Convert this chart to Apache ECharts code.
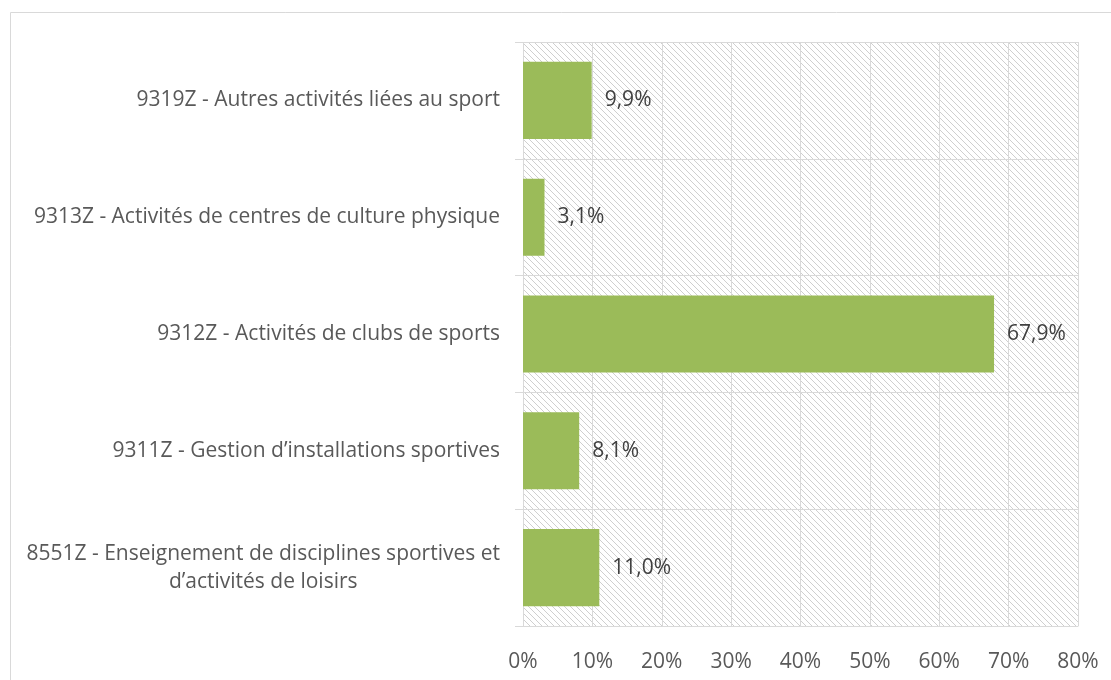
<!DOCTYPE html>
<html>
<head>
<meta charset="utf-8">
<script src="https://cdn.jsdelivr.net/npm/echarts@6/dist/echarts.min.js"></script>
<style>
  html, body { margin: 0; padding: 0; background: #fff; }
  #chart { width: 1111px; height: 680px; }
</style>
</head>
<body>
<div id="chart"></div>
<script>
// categories, bottom to top
var categories = [
    '8551Z - Enseignement de disciplines sportives et\nd\u2019activités de loisirs',
    '9311Z - Gestion d\u2019installations sportives',
    '9312Z - Activités de clubs de sports',
    '9313Z - Activités de centres de culture physique',
    '9319Z - Autres activités liées au sport'
];
var shares = [11.0, 8.1, 67.9, 3.1, 9.9];
var xTicks = [0, 10, 20, 30, 40, 50, 60, 70, 80];

var FONT = '"Open Sans", sans-serif';
var FS = 21;

// hatch tile for the plot background
function makeHatch() {
    var s = 6;
    var c = document.createElement('canvas');
    c.width = s; c.height = s;
    var ctx = c.getContext('2d');
    ctx.fillStyle = '#ffffff';
    ctx.fillRect(0, 0, s, s);
    ctx.fillStyle = '#cfcfcf';
    for (var i = 0; i < s; i++) {
        ctx.fillRect(i, i, 1, 1);
    }
    return c;
}

var chart = echarts.init(document.getElementById('chart'));
chart.setOption({
    animation: false,
    textStyle: { fontFamily: FONT },
    graphic: [{
        type: 'rect',
        shape: { x: 10.5, y: 12.5, width: 1120, height: 700 },
        style: { fill: 'none', stroke: '#d9d9d9', lineWidth: 1 },
        silent: true
    }],
    grid: {
        left: 523,
        right: 33,
        top: 42,
        bottom: 54,
        show: true,
        borderWidth: 0,
        backgroundColor: { image: makeHatch(), repeat: 'repeat' }
    },
    xAxis: {
        type: 'value',
        min: xTicks[0],
        max: xTicks[xTicks.length - 1],
        interval: 10,
        axisLine: { show: true, lineStyle: { color: '#d9d9d9', width: 1 } },
        axisTick: { show: false },
        splitLine: { show: true, lineStyle: { color: '#d9d9d9', width: 1 } },
        axisLabel: {
            color: '#595959',
            fontSize: FS,
            fontFamily: FONT,
            margin: 26,
            formatter: function (v) { return v + '%'; }
        }
    },
    yAxis: {
        type: 'category',
        data: categories,
        axisLine: { show: false },
        axisTick: { show: true, length: 8, lineStyle: { color: '#d9d9d9' } },
        splitLine: { show: true, lineStyle: { color: '#d9d9d9', width: 1 } },
        axisLabel: {
            color: '#595959',
            fontSize: FS,
            fontFamily: FONT,
            margin: 23,
            lineHeight: 28,
            formatter: function (v) {
                return v.split('\n').map(function (l) { return '{c|' + l + '}'; }).join('\n');
            },
            rich: {
                c: { align: 'center', color: '#595959', fontSize: FS, fontFamily: FONT, lineHeight: 28 }
            }
        }
    },
    series: [{
        type: 'bar',
        data: shares,
        barCategoryGap: '34%',
        itemStyle: { color: '#9bbb59' },
        label: {
            show: true,
            position: 'right',
            distance: 13,
            color: '#404040',
            fontSize: FS,
            fontFamily: FONT,
            formatter: function (p) { return p.value.toFixed(1).replace('.', ',') + '%'; }
        }
    }]
});
</script>
</body>
</html>
